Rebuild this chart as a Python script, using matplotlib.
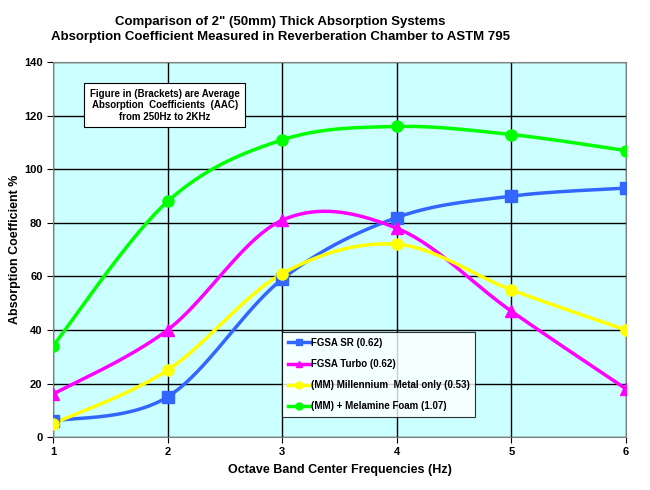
import numpy as np
import matplotlib
matplotlib.use('Agg')
import matplotlib.pyplot as plt

plt.rcParams['font.family'] = ['Liberation Sans', 'DejaVu Sans']
plt.rcParams['font.weight'] = 'bold'

# data
bands = [1, 2, 3, 4, 5, 6]
fgsa_sr = [6, 15, 59, 82, 90, 93]
fgsa_turbo = [16, 40, 81, 78, 47, 18]
mm_only = [5, 25, 61, 72, 55, 40]
mm_foam = [34, 88, 111, 116, 113, 107]

labels = ['FGSA SR (0.62)', 'FGSA Turbo (0.62)',
          '(MM) Millennium  Metal only (0.53)', '(MM) + Melamine Foam (1.07)']
colors = ['#3366FF', '#FF00FF', '#FFFF00', '#00FF00']
markers = ['s', '^', 'o', 'o']


def smooth(x, y, n=40):
    # Excel style smoothed line (bezier through points, catmull-rom controls)
    x = np.asarray(x, float)
    y = np.asarray(y, float)
    px = np.concatenate([[x[0]], x, [x[-1]]])
    py = np.concatenate([[y[0]], y, [y[-1]]])
    xs, ys = [], []
    t = np.linspace(0, 1, n)
    for i in range(1, len(px) - 2):
        p0 = np.array([px[i], py[i]])
        p3 = np.array([px[i + 1], py[i + 1]])
        c1 = p0 + (np.array([px[i + 1], py[i + 1]]) - np.array([px[i - 1], py[i - 1]])) / 6
        c2 = p3 - (np.array([px[i + 2], py[i + 2]]) - np.array([px[i], py[i]])) / 6
        b = ((1 - t) ** 3)[:, None] * p0 + (3 * (1 - t) ** 2 * t)[:, None] * c1 \
            + (3 * (1 - t) * t ** 2)[:, None] * c2 + (t ** 3)[:, None] * p3
        xs.extend(b[:, 0])
        ys.extend(b[:, 1])
    return np.array(xs), np.array(ys)


fig = plt.figure(figsize=(6.5, 4.9), dpi=100)
ax = fig.add_axes([0.0815, 0.108, 0.8815, 0.765])
ax.set_facecolor('#CCFFFF')

for vals, lab, c, m in zip([fgsa_sr, fgsa_turbo, mm_only, mm_foam], labels, colors, markers):
    sx, sy = smooth(bands, vals)
    ax.plot(sx, sy, color=c, lw=2.5, zorder=3)
    ax.plot(bands, vals, linestyle='none', marker=m, color=c, markersize=8, zorder=4)
    ax.plot([], [], color=c, lw=2.5, marker=m, markersize=5, label=lab)

ax.set_xlim(1, 6)
ax.set_ylim(0, 140)
ax.set_xticks(bands)
ax.set_yticks(range(0, 141, 20))
ax.grid(True, color='black', lw=1)
ax.set_axisbelow(True)
for s in ax.spines.values():
    s.set_color('#808080')
ax.tick_params(labelsize=8, length=4, direction='out')
for lab in ax.get_xticklabels() + ax.get_yticklabels():
    lab.set_fontweight('bold')

ax.set_xlabel('Octave Band Center Frequencies (Hz)', fontsize=9, fontweight='bold', labelpad=5)
ax.set_ylabel('Absorption Coefficient %', fontsize=9, fontweight='bold', labelpad=2)
fig.text(0.431, 0.94, 'Comparison of 2" (50mm) Thick Absorption Systems\n'
         'Absorption Coefficient Measured in Reverberation Chamber to ASTM 795',
         ha='center', va='center', fontsize=9.5, fontweight='bold', linespacing=1.3)

ax.text(0.195, 0.885, 'Figure in (Brackets) are Average\nAbsorption  Coefficients  (AAC)\nfrom 250Hz to 2KHz',
        transform=ax.transAxes, ha='center', va='center', fontsize=7, fontweight='bold',
        bbox=dict(boxstyle='square,pad=0.55', fc='white', ec='black', lw=0.8), zorder=5)

leg = ax.legend(loc='lower left', bbox_to_anchor=(0.392, 0.04), fontsize=7, frameon=True,
                fancybox=False, edgecolor='black', handlelength=2.2, handletextpad=0.1,
                labelspacing=1.15, borderpad=0.6)
leg.get_frame().set_linewidth(0.8)
for t in leg.get_texts():
    t.set_fontweight('bold')

fig.savefig('out.png', dpi=100)
